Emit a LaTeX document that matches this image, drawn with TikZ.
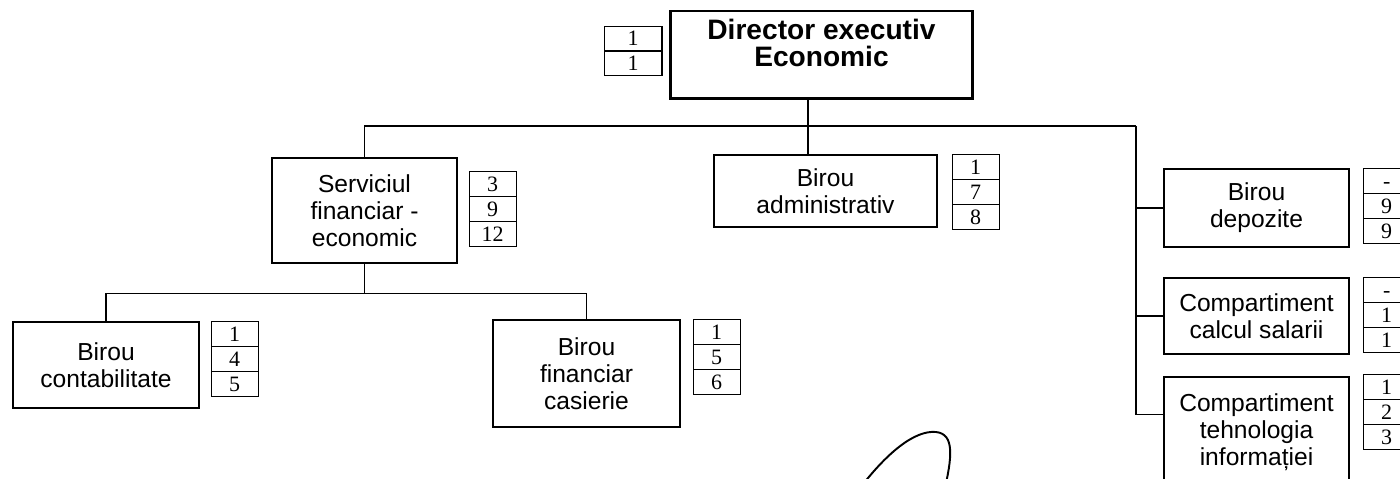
\documentclass[tikz,border=0pt]{standalone}
\usepackage{fontspec}
\setmainfont{Liberation Sans}
\newfontfamily\numfont{Liberation Serif}
\usetikzlibrary{positioning,shapes.multipart}

\newcommand{\cellstrut}{\rule[-2.75pt]{0pt}{13.6pt}}
\newcommand{\threecells}[3]{\cellstrut#1\nodepart{two}\cellstrut#2\nodepart{three}\cellstrut#3}

\begin{document}
\begin{tikzpicture}[
  x=0.02cm, y=-0.02cm,
  box/.style={rectangle, draw, line width=0.75pt, minimum width=3.72cm, align=center, font=\fontsize{14}{15.3}\selectfont},
  headbox/.style={box, line width=1.7pt, font=\fontsize{16}{15.6}\selectfont\bfseries},
  nums/.style={rectangle split, rectangle split parts=3, draw, line width=0.6pt, inner xsep=0pt, inner ysep=0pt, text width=0.94cm, align=center, font=\numfont\fontsize{12.5}{13}\selectfont},
  link/.style={line width=0.9pt}
]
\useasboundingbox (0,0) rectangle (1400,479);
\clip (0,0) rectangle (1400,479);

% Director
\node[headbox, minimum width=6.06cm, minimum height=1.76cm] (dir) at (821.5,55) {Director executiv\\Economic\\[-1.7pt]\mbox{}};
\node[nums, rectangle split parts=2, text width=1.16cm, left=0.12cm of dir.north west, anchor=north east, yshift=-0.32cm] (dirn) {\cellstrut 1\nodepart{two}\cellstrut 1};

% Second level
\node[box, minimum width=3.7cm, minimum height=2.1cm] (serv) at (364.5,210.5) {Serviciul\\financiar -\\economic};
\node[nums, right=0.22cm of serv.north east, anchor=north west, yshift=-0.28cm] (servn) {\threecells{3}{9}{12}};

\node[box, minimum width=4.46cm, minimum height=1.44cm] (admin) at (825.5,191) {Birou\\administrativ};
\node[nums, right=0.28cm of admin.north east, anchor=north west] (adminn) {\threecells{1}{7}{8}};

% Under Serviciul
\node[box, minimum height=1.72cm] (cont) at (106,365) {Birou\\contabilitate};
\node[nums, right=0.22cm of cont.north east, anchor=north west] (contn) {\threecells{1}{4}{5}};

\node[box, minimum width=3.74cm, minimum height=2.14cm] (fin) at (586.5,373.5) {Birou\\financiar\\casierie};
\node[nums, right=0.24cm of fin.north east, anchor=north west] (finn) {\threecells{1}{5}{6}};

% Right column
\node[box, minimum width=3.7cm, minimum height=1.56cm] (dep) at (1256.5,208) {Birou\\depozite};
\node[nums, right=0.26cm of dep.north east, anchor=north west] (depn) {\threecells{-}{9}{9}};

\node[box, minimum width=3.7cm, minimum height=1.52cm] (calc) at (1256.5,316) {Compartiment\\calcul salarii};
\node[nums, right=0.26cm of calc.north east, anchor=north west] (calcn) {\threecells{-}{1}{1}};

\node[box, minimum width=3.7cm, minimum height=2.2cm] (tehn) at (1256.5,432) {Compartiment\\tehnologia\\informației};
\node[nums, right=0.26cm of tehn.north east, anchor=north west, yshift=0.04cm] (tehnn) {\threecells{1}{2}{3}};

% Connections
\coordinate (hub) at (808,126);
\coordinate (trunk) at (1136,126);
\draw[link] (hub |- dir.south) -- (hub |- admin.north);
\draw[link] (serv.north) |- (trunk);
\draw[link] (trunk) |- ([yshift=-0.76cm]tehn.north west);
\draw[link] (trunk |- dep.west) -- (dep.west);
\draw[link] (trunk |- calc.west) -- (calc.west);
\draw[link] (serv.south) -- ++(0,30) coordinate (sub);
\draw[link] (cont.north) |- (sub) -| (fin.north);

% Signature
\draw[line width=1.1pt] (857,492) .. controls (887,452) and (915,430) .. (936,432)
  .. controls (955,434) and (952,458) .. (944,492);
\end{tikzpicture}
\end{document}
